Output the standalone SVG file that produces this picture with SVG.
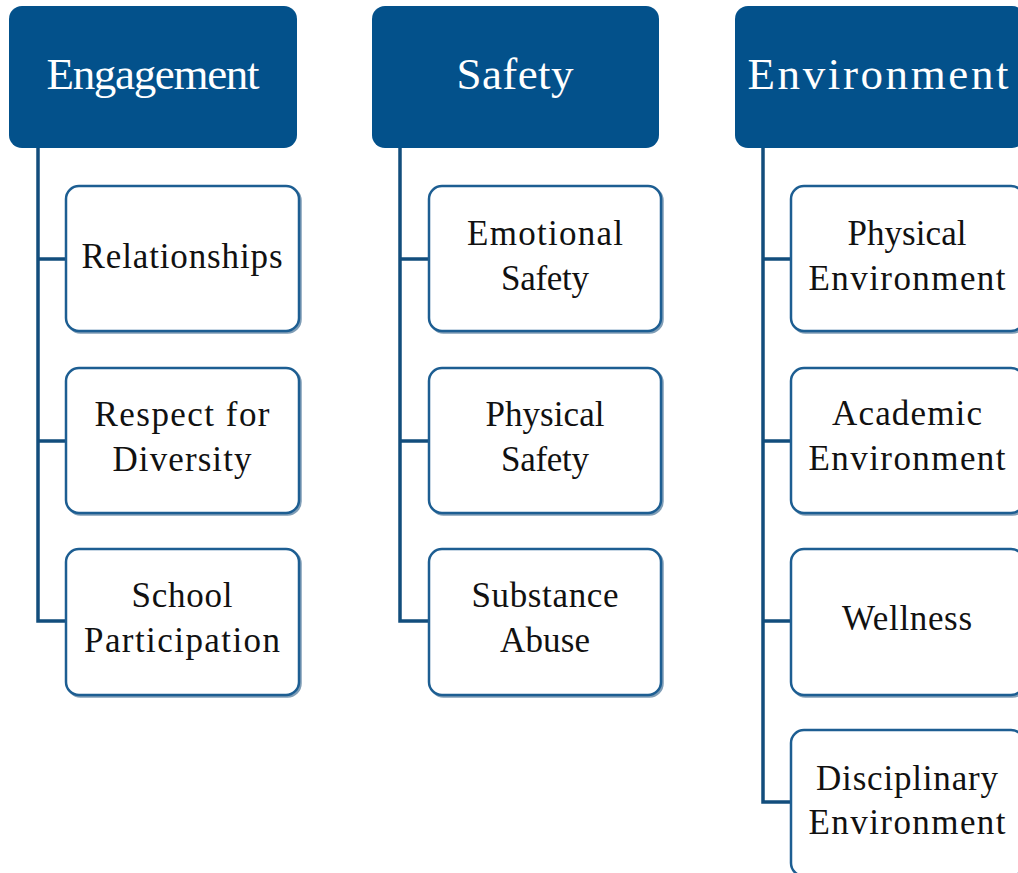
<svg xmlns="http://www.w3.org/2000/svg" width="1018" height="873" viewBox="0 0 1018 873">
<style>
.hdr{fill:#03518B;}
.hdr-t{fill:#ffffff;font-family:"Liberation Serif",serif;font-size:45px;text-anchor:middle;}
.child{fill:#ffffff;stroke:#1D5E92;stroke-width:2.5;}
.shadow{fill:none;stroke:#164D7A;stroke-width:2.5;opacity:0.55;}
.child-t{fill:#111111;font-family:"Liberation Serif",serif;font-size:35px;text-anchor:middle;}
.conn{fill:none;stroke:#124D7C;stroke-width:3.5;}
</style>
<rect width="1018" height="873" fill="#ffffff"/>
<g id="connectors">
<path class="conn" d="M38,148 V621 H66 M38,259 H66 M38,441 H66"/>
<path class="conn" d="M400,148 V621 H429 M400,259 H429 M400,441 H429"/>
<path class="conn" d="M763,148 V802 H791 M763,259 H791 M763,441 H791 M763,621 H791"/>
</g>
<g id="engagement">
<rect class="hdr" x="9" y="6" width="288" height="142" rx="13"/>
<text class="hdr-t" x="153" y="89" textLength="213" lengthAdjust="spacing">Engagement</text>
</g>
<g id="safety">
<rect class="hdr" x="372" y="6" width="287" height="142" rx="13"/>
<text class="hdr-t" x="515" y="89" textLength="117" lengthAdjust="spacing">Safety</text>
</g>
<g id="environment">
<rect class="hdr" x="735" y="6" width="290" height="142" rx="13"/>
<text class="hdr-t" x="878" y="89" textLength="261" lengthAdjust="spacing">Environment</text>
</g>
<g id="relationships">
<rect class="shadow" x="67.5" y="187.5" width="233" height="145" rx="13"/>
<rect class="child" x="66" y="186" width="233" height="145" rx="13"/>
<text class="child-t" x="182" y="268" textLength="201" lengthAdjust="spacing">Relationships</text>
</g>
<g id="respect">
<rect class="shadow" x="67.5" y="369.5" width="233" height="145" rx="13"/>
<rect class="child" x="66" y="368" width="233" height="145" rx="13"/>
<text class="child-t" x="182" y="426" textLength="175" lengthAdjust="spacing">Respect for</text>
<text class="child-t" x="182" y="471" textLength="139" lengthAdjust="spacing">Diversity</text>
</g>
<g id="school">
<rect class="shadow" x="67.5" y="550.5" width="233" height="146" rx="13"/>
<rect class="child" x="66" y="549" width="233" height="146" rx="13"/>
<text class="child-t" x="182" y="607" textLength="101" lengthAdjust="spacing">School</text>
<text class="child-t" x="182" y="652" textLength="196" lengthAdjust="spacing">Participation</text>
</g>
<g id="emotional">
<rect class="shadow" x="430.5" y="187.5" width="232" height="145" rx="13"/>
<rect class="child" x="429" y="186" width="232" height="145" rx="13"/>
<text class="child-t" x="545" y="245" textLength="156" lengthAdjust="spacing">Emotional</text>
<text class="child-t" x="545" y="290" textLength="88" lengthAdjust="spacing">Safety</text>
</g>
<g id="physical-safety">
<rect class="shadow" x="430.5" y="369.5" width="232" height="145" rx="13"/>
<rect class="child" x="429" y="368" width="232" height="145" rx="13"/>
<text class="child-t" x="545" y="426" textLength="119" lengthAdjust="spacing">Physical</text>
<text class="child-t" x="545" y="471" textLength="88" lengthAdjust="spacing">Safety</text>
</g>
<g id="substance">
<rect class="shadow" x="430.5" y="550.5" width="232" height="146" rx="13"/>
<rect class="child" x="429" y="549" width="232" height="146" rx="13"/>
<text class="child-t" x="545" y="607" textLength="147" lengthAdjust="spacing">Substance</text>
<text class="child-t" x="545" y="652" textLength="90" lengthAdjust="spacing">Abuse</text>
</g>
<g id="physical-env">
<rect class="shadow" x="792.5" y="187.5" width="233" height="145" rx="13"/>
<rect class="child" x="791" y="186" width="233" height="145" rx="13"/>
<text class="child-t" x="907" y="245" textLength="119" lengthAdjust="spacing">Physical</text>
<text class="child-t" x="907" y="290" textLength="197" lengthAdjust="spacing">Environment</text>
</g>
<g id="academic">
<rect class="shadow" x="792.5" y="369.5" width="233" height="145" rx="13"/>
<rect class="child" x="791" y="368" width="233" height="145" rx="13"/>
<text class="child-t" x="907" y="425" textLength="150" lengthAdjust="spacing">Academic</text>
<text class="child-t" x="907" y="470" textLength="197" lengthAdjust="spacing">Environment</text>
</g>
<g id="wellness">
<rect class="shadow" x="792.5" y="550.5" width="233" height="146" rx="13"/>
<rect class="child" x="791" y="549" width="233" height="146" rx="13"/>
<text class="child-t" x="907" y="630" textLength="130" lengthAdjust="spacing">Wellness</text>
</g>
<g id="disciplinary">
<rect class="shadow" x="792.5" y="731.5" width="233" height="146" rx="13"/>
<rect class="child" x="791" y="730" width="233" height="146" rx="13"/>
<text class="child-t" x="907" y="790" textLength="182" lengthAdjust="spacing">Disciplinary</text>
<text class="child-t" x="907" y="834" textLength="197" lengthAdjust="spacing">Environment</text>
</g>
</svg>
